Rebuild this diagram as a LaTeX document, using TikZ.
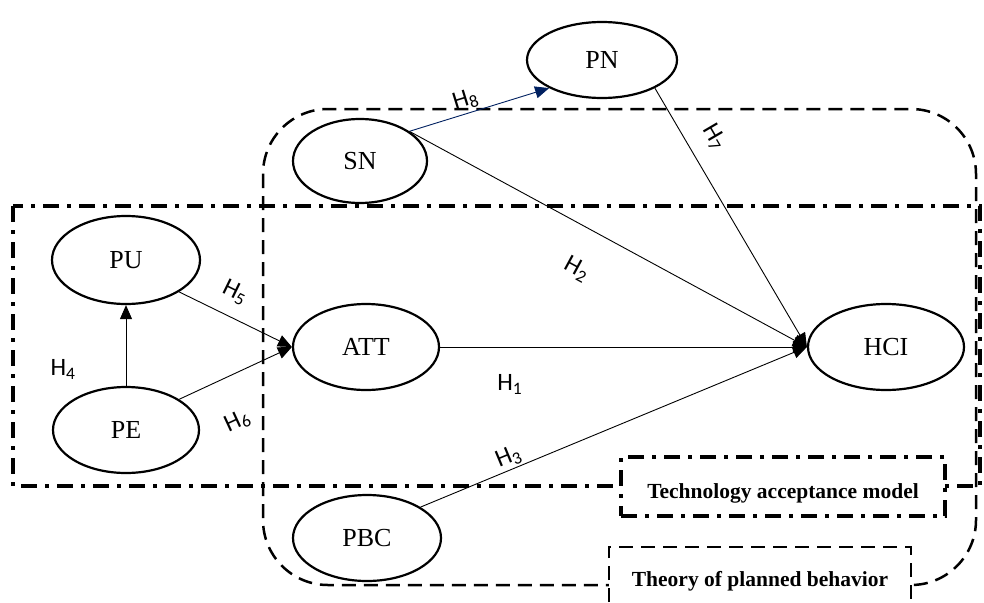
\documentclass[tikz,border=0pt]{standalone}
\usepackage{fontspec}
\setmainfont{Liberation Serif}
\newfontfamily\hfont{Carlito}
\usetikzlibrary{shapes.geometric,arrows.meta}
\definecolor{linknavy}{RGB}{0,32,96}
\newcommand{\lowertext}[1]{\raisebox{-7pt}[\height][\depth]{#1}}
\begin{document}
\begin{tikzpicture}[x=1pt,y=-1pt,
  var/.style={ellipse,draw,line width=2.2pt,fill=white,inner sep=0pt,font=\fontsize{26}{30}\selectfont},
  link/.style={line width=0.9pt,-{Triangle[length=14pt,width=12pt]}},
  hlab/.style={font=\hfont\fontsize{25}{28}\selectfont,inner sep=0pt},
  tpbline/.style={line width=2.5pt,dash pattern=on 14pt off 8pt,rounded corners=65pt},
  tamline/.style={line width=3.2pt,dash pattern=on 16pt off 8pt on 4pt off 8pt},
  boxtext/.style={font=\bfseries\fontsize{21.5}{24}\selectfont,inner sep=0pt,fill=white}
]
\useasboundingbox (0,0) rectangle (984,602);
% regions
\draw[tpbline] (263,109) rectangle (976,585);
\draw[tamline] (13,206) rectangle (980,486);
% region labels
\node[boxtext,draw,tamline,minimum width=324pt,minimum height=59pt] (tam) at (783,486.5) {\lowertext{Technology acceptance model}};
\node[boxtext,minimum width=302pt,minimum height=55pt] (tpb) at (760,574.5) {\lowertext{Theory of planned behavior}};
\draw[line width=2.5pt,dash pattern=on 14pt off 8pt] (tpb.south west) -- (tpb.north west) -- (tpb.north east) -- (tpb.south east);
% variables
\node[var,minimum width=150pt,minimum height=76pt] (PN) at (602,60) {PN};
\node[var,minimum width=134pt,minimum height=84pt] (SN) at (360,161) {SN};
\node[var,minimum width=148pt,minimum height=88pt] (PU) at (126,260) {PU};
\node[var,minimum width=146pt,minimum height=86pt] (PE) at (126,430) {PE};
\node[var,minimum width=146pt,minimum height=86pt] (ATT) at (366,347) {ATT};
\node[var,minimum width=156pt,minimum height=86pt] (HCI) at (886,347) {HCI};
\node[var,minimum width=148pt,minimum height=86pt] (PBC) at (367,538) {PBC};
% connectors
\draw[link,linknavy] (SN.31) -- node[hlab,text=black,pos=0.43,sloped,above=3pt]{H\textsubscript{8}} (PN.208);
\draw[link] (SN.31) -- node[hlab,pos=0.47,sloped,below=31pt]{H\textsubscript{2}} (HCI.west);
\draw[link] (PN.-28) -- node[hlab,pos=0.24,sloped,above=16pt]{H\textsubscript{7}} (HCI.west);
\draw[link] (ATT.east) -- node[hlab,pos=0.19,below=27pt]{H\textsubscript{1}} (HCI.west);
\draw[link] (PBC.30) -- node[hlab,pos=0.24,sloped,above=2pt]{H\textsubscript{3}} (HCI.west);
\draw[link] (PU.-31) -- node[hlab,pos=0.4,sloped,above=14pt]{H\textsubscript{5}} (ATT.west);
\draw[link] (PE.30) -- node[hlab,pos=0.35,sloped,below=34pt]{H\textsubscript{6}} (ATT.west);
\draw[link] (PE) -- node[hlab,pos=0.2,left=50pt]{H\textsubscript{4}} (PU);
\end{tikzpicture}
\end{document}
